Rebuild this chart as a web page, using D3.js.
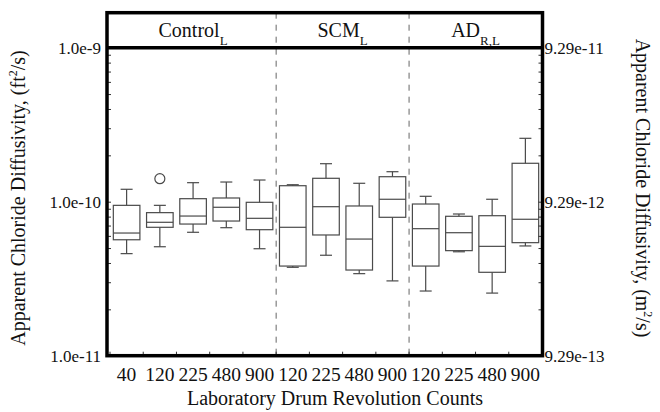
<!DOCTYPE html>
<html>
<head>
<meta charset="utf-8">
<script src="https://cdn.jsdelivr.net/npm/d3@7"></script>
<style>
  body { margin: 0; background: #fff; }
  text { font-family: "Liberation Serif", "Times New Roman", serif; fill: #111; }
</style>
</head>
<body>
<div id="chart"></div>
<script>
var width = 660,
    height = 412;

// DATA (ft^2/s)
var groups = ["Control", "SCM", "AD"];
var groupSubs = ["L", "L", "R,L"];
var groupSizes = [5, 4, 4];
var counts = ["40", "120", "225", "480", "900", "120", "225", "480", "900", "120", "225", "480", "900"];
var whiskerLow = [4.60e-11, 5.10e-11, 6.33e-11, 6.78e-11, 4.95e-11, 3.75e-11, 4.49e-11, 3.41e-11, 3.06e-11, 2.63e-11, 4.73e-11, 2.55e-11, 5.16e-11];
var q1 =         [5.66e-11, 6.82e-11, 7.16e-11, 7.49e-11, 6.58e-11, 3.82e-11, 6.08e-11, 3.60e-11, 7.92e-11, 3.82e-11, 4.81e-11, 3.48e-11, 5.42e-11];
var median =     [6.26e-11, 7.35e-11, 8.07e-11, 9.20e-11, 7.80e-11, 6.82e-11, 9.28e-11, 5.72e-11, 1.037e-10, 6.68e-11, 6.29e-11, 5.13e-11, 7.69e-11];
var q3 =         [9.47e-11, 8.49e-11, 1.046e-10, 1.057e-10, 9.91e-11, 1.270e-10, 1.419e-10, 9.38e-11, 1.453e-10, 9.66e-11, 8.04e-11, 8.11e-11, 1.776e-10];
var whiskerHigh = [1.204e-10, 9.47e-11, 1.329e-10, 1.342e-10, 1.383e-10, 1.289e-10, 1.765e-10, 1.317e-10, 1.566e-10, 1.084e-10, 8.32e-11, 1.037e-10, 2.58e-10];
var outlierIndex = [1];
var outlierValue = [1.41e-10];

var leftTicks = [1e-11, 1e-10, 1e-9];
var leftTickLabels = ["1.0e-11", "1.0e-10", "1.0e-9"];
var rightTickLabels = ["9.29e-13", "9.29e-12", "9.29e-11"];

// LAYOUT
var frameLeft = 107, frameRight = 542.5, frameTop = 12.7;
var boxColor = "#4a4a4a";
var serif = "'Liberation Serif', 'Times New Roman', serif";

var svg = d3.select("#chart").append("svg")
    .attr("width", width)
    .attr("height", height);

var x = d3.scaleBand()
    .domain(d3.range(counts.length))
    .range([110, 542])
    .paddingInner(0.2)
    .paddingOuter(0.1);

var y = d3.scaleLog()
    .domain([1e-11, 1e-9])
    .range([355.7, 47.7]);

// minor ticks 1..9 per decade
var minorTicks = [];
[1e-11, 1e-10].forEach(function(dec) {
    d3.range(1, 10).forEach(function(m) { minorTicks.push(dec * m); });
});
minorTicks.push(1e-9);

// group spans over the bands
var bounds = [];
var acc = 0;
groupSizes.forEach(function(n, i) {
    var start = acc;
    acc += n;
    bounds.push({ start: start, end: acc, i: i });
});
function bandEdge(i) { return x.range()[0] + i * x.step(); }

// dashed separators
svg.append("g")
    .attr("class", "separators")
    .selectAll("line")
    .data(bounds.slice(0, -1))
    .enter().append("line")
    .attr("x1", function(d) { return bandEdge(d.end); })
    .attr("x2", function(d) { return bandEdge(d.end); })
    .attr("y1", frameTop)
    .attr("y2", y(1e-11))
    .attr("stroke", "#666")
    .attr("stroke-width", 1)
    .attr("stroke-dasharray", "6,6");

// group header labels
var header = svg.append("g").attr("class", "header")
    .selectAll("text")
    .data(bounds)
    .enter().append("text")
    .attr("x", function(d) { return (bandEdge(d.start) + bandEdge(d.end)) / 2; })
    .attr("y", 37)
    .attr("text-anchor", "middle")
    .attr("font-size", 20);
header.append("tspan").text(function(d) { return groups[d.i]; });
header.append("tspan")
    .attr("dy", 8)
    .attr("font-size", 13)
    .text(function(d) { return groupSubs[d.i]; });

// BOXES
var boxes = svg.append("g").attr("class", "boxes")
    .selectAll("g")
    .data(counts.map(function(c, i) { return i; }))
    .enter().append("g");

var capW = 12;
function cx(i) { return x(i) + x.bandwidth() / 2; }

boxes.append("line")
    .attr("x1", cx).attr("x2", cx)
    .attr("y1", function(i) { return y(whiskerHigh[i]); })
    .attr("y2", function(i) { return y(q3[i]); })
    .attr("stroke", boxColor).attr("stroke-width", 1.2);
boxes.append("line")
    .attr("x1", cx).attr("x2", cx)
    .attr("y1", function(i) { return y(q1[i]); })
    .attr("y2", function(i) { return y(whiskerLow[i]); })
    .attr("stroke", boxColor).attr("stroke-width", 1.2);
boxes.append("line")
    .attr("x1", function(i) { return cx(i) - capW / 2; })
    .attr("x2", function(i) { return cx(i) + capW / 2; })
    .attr("y1", function(i) { return y(whiskerHigh[i]); })
    .attr("y2", function(i) { return y(whiskerHigh[i]); })
    .attr("stroke", boxColor).attr("stroke-width", 1.2);
boxes.append("line")
    .attr("x1", function(i) { return cx(i) - capW / 2; })
    .attr("x2", function(i) { return cx(i) + capW / 2; })
    .attr("y1", function(i) { return y(whiskerLow[i]); })
    .attr("y2", function(i) { return y(whiskerLow[i]); })
    .attr("stroke", boxColor).attr("stroke-width", 1.2);
boxes.append("rect")
    .attr("x", function(i) { return x(i); })
    .attr("width", x.bandwidth())
    .attr("y", function(i) { return y(q3[i]); })
    .attr("height", function(i) { return y(q1[i]) - y(q3[i]); })
    .attr("fill", "none")
    .attr("stroke", boxColor).attr("stroke-width", 1.2);
boxes.append("line")
    .attr("x1", function(i) { return x(i); })
    .attr("x2", function(i) { return x(i) + x.bandwidth(); })
    .attr("y1", function(i) { return y(median[i]); })
    .attr("y2", function(i) { return y(median[i]); })
    .attr("stroke", boxColor).attr("stroke-width", 1.2);

svg.append("g").attr("class", "outliers")
    .selectAll("circle")
    .data(outlierIndex)
    .enter().append("circle")
    .attr("cx", function(d) { return cx(d); })
    .attr("cy", function(d, k) { return y(outlierValue[k]); })
    .attr("r", 5)
    .attr("fill", "none")
    .attr("stroke", boxColor)
    .attr("stroke-width", 1.2);

// AXES
function decadeLabel(labels) {
    return function(d) {
        var k = leftTicks.findIndex(function(t) { return Math.abs(t - d) / t < 1e-6; });
        return k < 0 ? "" : labels[k];
    };
}

var leftAxis = d3.axisLeft(y)
    .tickValues(minorTicks)
    .tickSizeInner(-4)
    .tickSizeOuter(0)
    .tickPadding(6)
    .tickFormat(decadeLabel(leftTickLabels));
svg.append("g")
    .attr("transform", "translate(" + frameLeft + ",0)")
    .call(leftAxis)
    .attr("font-family", serif)
    .call(function(g) {
        g.select(".domain").remove();
        g.selectAll(".tick line").attr("stroke", "#333");
        g.selectAll("text").attr("font-size", 17).style("font-family", serif).attr("fill", "#111");
    });

var rightAxis = d3.axisRight(y)
    .tickValues(minorTicks)
    .tickSizeInner(-4)
    .tickSizeOuter(0)
    .tickPadding(2)
    .tickFormat(decadeLabel(rightTickLabels));
svg.append("g")
    .attr("transform", "translate(" + frameRight + ",0)")
    .call(rightAxis)
    .attr("font-family", serif)
    .call(function(g) {
        g.select(".domain").remove();
        g.selectAll(".tick line").attr("stroke", "#333");
        g.selectAll("text").attr("font-size", 17).style("font-family", serif).attr("fill", "#111");
    });

// bottom: ticks at band edges, labels at band centres
svg.append("g").attr("class", "xticks")
    .selectAll("line")
    .data(d3.range(counts.length + 1))
    .enter().append("line")
    .attr("x1", bandEdge).attr("x2", bandEdge)
    .attr("y1", y(1e-11))
    .attr("y2", y(1e-11) - 4)
    .attr("stroke", "#333");

svg.append("g").attr("class", "xlabels")
    .selectAll("text")
    .data(counts)
    .enter().append("text")
    .attr("x", function(d, i) { return cx(i); })
    .attr("y", 381)
    .attr("text-anchor", "middle")
    .attr("font-size", 19.5)
    .text(function(d) { return d; });

// FRAME
svg.append("rect")
    .attr("x", frameLeft)
    .attr("y", frameTop)
    .attr("width", frameRight - frameLeft)
    .attr("height", y(1e-11) - frameTop)
    .attr("fill", "none")
    .attr("stroke", "#000")
    .attr("stroke-width", 3.5);
svg.append("line")
    .attr("x1", frameLeft).attr("x2", frameRight)
    .attr("y1", y(1e-9)).attr("y2", y(1e-9))
    .attr("stroke", "#000")
    .attr("stroke-width", 3.5);

// TITLES
svg.append("text")
    .attr("x", 335)
    .attr("y", 405)
    .attr("text-anchor", "middle")
    .attr("font-size", 20)
    .text("Laboratory Drum Revolution Counts");

var yl = svg.append("text")
    .attr("transform", "translate(25,198) rotate(-90)")
    .attr("text-anchor", "middle")
    .attr("font-size", 20);
yl.append("tspan").text("Apparent Chloride Diffusivity, (ft");
yl.append("tspan").attr("dy", -8).attr("font-size", 12).text("2");
yl.append("tspan").attr("dy", 8).text("/s)");

var yr = svg.append("text")
    .attr("transform", "translate(636,188) rotate(90)")
    .attr("text-anchor", "middle")
    .attr("font-size", 20);
yr.append("tspan").text("Apparent Chloride Diffusivity, (m");
yr.append("tspan").attr("dy", -8).attr("font-size", 12).text("2");
yr.append("tspan").attr("dy", 8).text("/s)");
</script>
</body>
</html>
